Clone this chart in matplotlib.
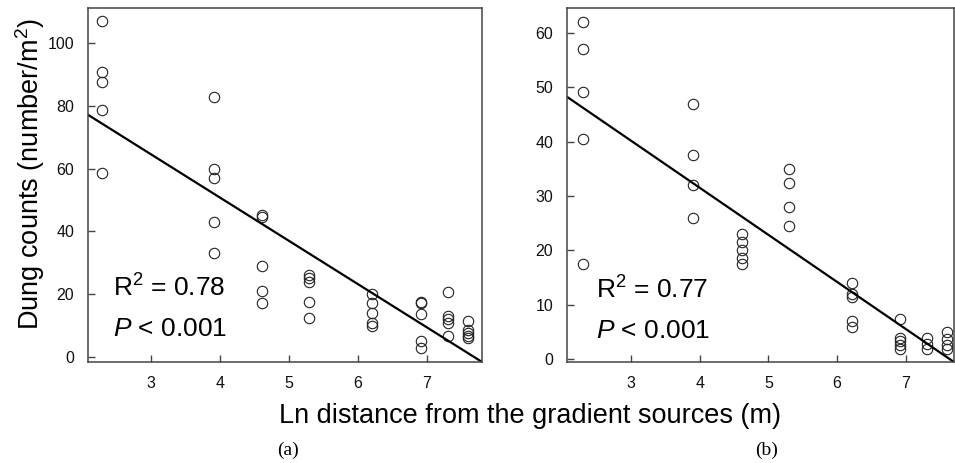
import matplotlib
matplotlib.use("Agg")
import matplotlib.pyplot as plt
import numpy as np

plt.rcParams['font.family'] = ['Liberation Sans', 'DejaVu Sans']
plt.rcParams['mathtext.fontset'] = 'custom'
plt.rcParams['mathtext.rm'] = 'Liberation Sans'
plt.rcParams['mathtext.it'] = 'Liberation Sans:italic'

# ln distance of each sampling site
sites = [2.30, 3.91, 4.61, 5.30, 6.21, 6.91, 7.31, 7.60]

# dung counts per site, panel (a)
counts_a = [
    [107, 90.8, 87.7, 78.7, 58.7],
    [82.7, 59.8, 56.9, 43.1, 33.2],
    [45.2, 44.7, 29.1, 21.0, 17.3],
    [26.1, 25.1, 23.8, 17.6, 12.3],
    [20.1, 17.1, 13.9, 10.9, 9.9],
    [17.6, 17.1, 13.6, 5.2, 2.8],
    [20.6, 13.1, 12.0, 10.9, 6.7],
    [11.6, 8.6, 7.5, 6.7, 5.9],
]
# dung counts per site, panel (b)
counts_b = [
    [62.1, 57.1, 49.1, 40.5, 17.5],
    [47.0, 37.6, 32.1, 26.0],
    [23.0, 21.5, 20.0, 18.5, 17.5],
    [35.0, 32.4, 27.9, 24.4],
    [14.0, 12.0, 11.4, 7.0, 5.9],
    [7.4, 3.9, 3.3, 2.5, 1.9],
    [3.9, 2.8, 1.9],
    [5.0, 3.7, 2.5, 1.9],
]

# fitted lines (intercept, slope)
fit_a = (105.9, -13.78)
fit_b = (66.2, -8.67)

r2_labels = ['0.78', '0.77']
panel_labels = ['(a)', '(b)']

fig = plt.figure(figsize=(9.55, 4.63), dpi=100)
ax1 = fig.add_axes([88/955, 101/463, 394/955, 354/463])
ax2 = fig.add_axes([567/955, 101/463, 387/955, 354/463])

spine_col = '#444444'


def draw_panel(ax, counts, fit, xlim, ylim, yticks, r2, txt_x, txt_y):
    xs = []
    ys = []
    for s, vals in zip(sites, counts):
        for v in vals:
            xs.append(s)
            ys.append(v)
    ax.plot(xs, ys, 'o', markersize=7.5, markerfacecolor='none',
            markeredgecolor='#222222', markeredgewidth=0.8)
    xl = np.array(xlim)
    ax.plot(xl, fit[0] + fit[1]*xl, color='black', lw=1.6)
    ax.set_xlim(*xlim)
    ax.set_ylim(*ylim)
    ax.set_xticks([3, 4, 5, 6, 7])
    ax.set_yticks(yticks)
    ax.tick_params(direction='in', length=5, width=1, color=spine_col,
                   labelsize=11.5, pad=10, labelcolor='#111111')
    for sp in ax.spines.values():
        sp.set_color(spine_col)
        sp.set_linewidth(1.1)
    ax.text(txt_x, txt_y[0], r'R$^2$ = ' + r2, transform=ax.transAxes,
            fontsize=19, va='baseline', ha='left')
    ax.text(txt_x, txt_y[1], r'$P$ < 0.001', transform=ax.transAxes,
            fontsize=19, va='baseline', ha='left')


draw_panel(ax1, counts_a, fit_a, (2.09, 7.80), (-1.6, 111.1),
           [0, 20, 40, 60, 80, 100], r2_labels[0],
           (113-88)/394, [(362-297)/354, (362-336)/354])
draw_panel(ax2, counts_b, fit_b, (2.07, 7.70), (-0.55, 64.6),
           [0, 10, 20, 30, 40, 50, 60], r2_labels[1],
           (596-567)/387, [(362-299)/354, (362-338)/354])

fig.text(30/955, 1-174/463, r'Dung counts (number/m$^2$)', rotation=90,
         fontsize=19.5, ha='center', va='center')
fig.text(530/955, 1-423/463, 'Ln distance from the gradient sources (m)',
         fontsize=19.5, ha='center', va='baseline')
fig.text(288/955, 1-450/463, panel_labels[0], family='Liberation Serif',
         fontsize=14, ha='center', va='center')
fig.text(767/955, 1-450/463, panel_labels[1], family='Liberation Serif',
         fontsize=14, ha='center', va='center')

fig.savefig('out.png', dpi=100)
